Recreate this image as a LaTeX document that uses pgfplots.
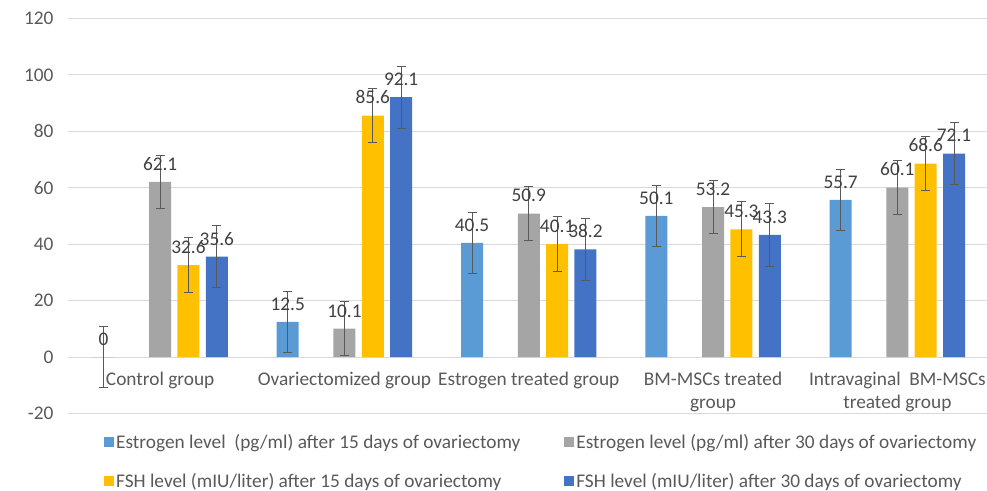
\documentclass[border=0pt]{standalone}
\usepackage{pgfplots}
\pgfplotsset{compat=1.18}
\usepackage{fontspec}
\setmainfont{Carlito}
\definecolor{c1}{HTML}{5B9BD5}
\definecolor{c2}{HTML}{A5A5A5}
\definecolor{c3}{HTML}{FFC000}
\definecolor{c4}{HTML}{4472C4}
\definecolor{gridc}{HTML}{D9D9D9}
\definecolor{txt}{HTML}{595959}
\definecolor{lbl}{HTML}{404040}
\definecolor{errc}{HTML}{595959}
\pgfplotsset{sqlegend/.style={legend image code/.code={\fill[##1] (0bp,-5bp) rectangle (10bp,5bp);}}}
\newcommand{\chartfont}{\fontsize{19.4}{23.5}\selectfont}
\begin{document}
\begin{tikzpicture}
\useasboundingbox (0,0) rectangle (987bp,491bp);
\begin{axis}[
  at={(68bp,77.3bp)}, anchor=south west,
  scale only axis, width=919bp, height=395.3bp,
  xmin=-0.5, xmax=4.4864, ymin=-20, ymax=120,
  ytick={-20,0,...,120},
  xtick={0,1,2,3,4},
  xticklabels={Control group, Ovariectomized group, Estrogen treated group, {BM-MSCs treated\\group}, {Intravaginal\ \ BM-MSCs\\treated group}},
  ymajorgrids, grid style={gridc, line width=1bp},
  axis line style={draw=none}, major tick style={draw=none},
  /pgf/number format/assume math mode=true,
  tick label style={font=\chartfont, text=txt},
  xticklabel style={align=center, anchor=north, yshift=49.5bp, font=\fontsize{19.4}{23.5}\selectfont},
  yticklabel style={xshift=-11bp},
  ybar, bar width=0.1194,
  nodes near coords,
  every node near coord/.append style={font=\chartfont, text=lbl, yshift=8bp},
  error bars/y dir=both, error bars/y explicit,
  error bars/error bar style={draw=errc, line width=1bp},
  error bars/error mark options={draw=errc, line width=1bp, rotate=90, mark size=4.5bp},
  legend columns=2,
  legend style={draw=none, fill=none, font=\chartfont, text=txt,
    at={(axis description cs:0,0)}, anchor=north west, xshift=33bp, yshift=-16bp,
    /tikz/every even column/.append style={column sep=42bp},
    row sep=20bp},
  legend cell align=left,
]
\addplot[sqlegend, fill=c1, draw=none, bar shift=-0.3077] coordinates {
  (0,0) +- (0,10.8)
  (1,12.5) +- (0,10.8)
  (2,40.5) +- (0,10.8)
  (3,50.1) +- (0,10.8)
  (4,55.7) +- (0,10.8)
};
\addlegendentry{Estrogen level\ \ (pg/ml) after 15 days of ovariectomy}
\addplot[sqlegend, fill=c2, draw=none, bar shift=0] coordinates {
  (0,62.1) +- (0,9.5)
  (1,10.1) +- (0,9.5)
  (2,50.9) +- (0,9.5)
  (3,53.2) +- (0,9.5)
  (4,60.1) +- (0,9.5)
};
\addlegendentry{Estrogen level (pg/ml) after 30 days of ovariectomy}
\addplot[sqlegend, fill=c3, draw=none, bar shift=0.1538] coordinates {
  (0,32.6) +- (0,9.7)
  (1,85.6) +- (0,9.7)
  (2,40.1) +- (0,9.7)
  (3,45.3) +- (0,9.7)
  (4,68.6) +- (0,9.7)
};
\addlegendentry{FSH level (mIU/liter) after 15 days of ovariectomy}
\addplot[sqlegend, fill=c4, draw=none, bar shift=0.3077] coordinates {
  (0,35.6) +- (0,11.0)
  (1,92.1) +- (0,11.0)
  (2,38.2) +- (0,11.0)
  (3,43.3) +- (0,11.0)
  (4,72.1) +- (0,11.0)
};
\addlegendentry{FSH level (mIU/liter) after 30 days of ovariectomy}
\end{axis}
\end{tikzpicture}
\end{document}
